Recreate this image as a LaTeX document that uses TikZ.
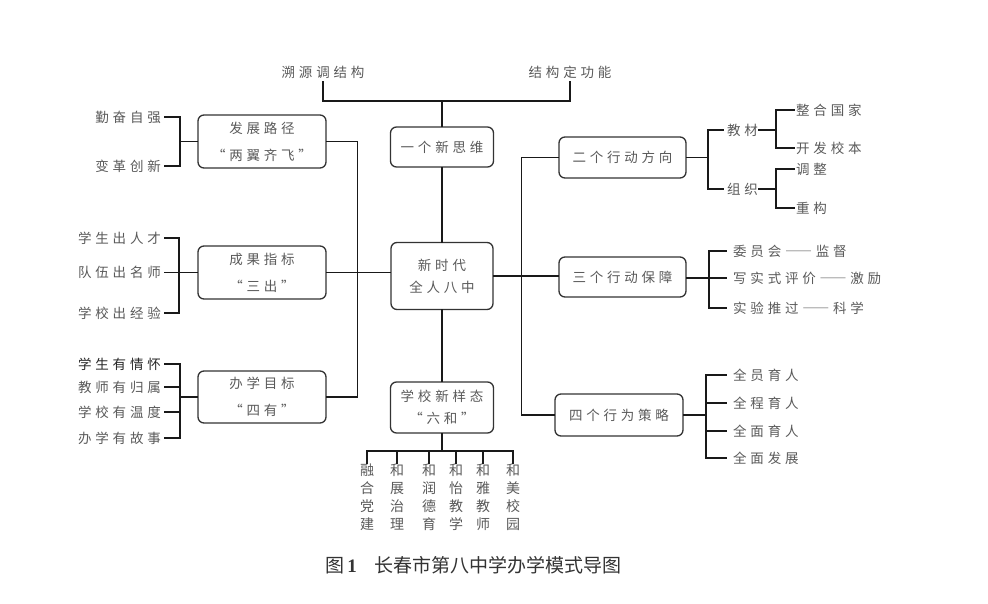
\documentclass[tikz,border=0pt]{standalone}
\usepackage{fontspec}
\newfontfamily\cjk[LetterSpace=28]{Noto Sans CJK SC}
\newfontfamily\cjkfw[LetterSpace=28,RawFeature=+fwid]{Noto Sans CJK SC}
\newfontfamily\cjkplain{Noto Sans CJK SC}
\newfontfamily\capnum{Liberation Serif}
\definecolor{txt}{HTML}{5A5A5A}
\definecolor{captxt}{HTML}{333333}
\begin{document}
\begin{tikzpicture}[x=1pt,y=-1pt,
  ln/.style={line width=1.5pt, draw=black!90, line cap=rect},
  box/.style={draw=black!80, line width=1.3pt, rounded corners=6pt, inner sep=0pt,
    align=center, text=txt, font=\cjk\fontsize{13.5}{22}\selectfont},
  wide/.style={minimum width=128pt, minimum height=53pt},
  lbl/.style={inner sep=0pt, text=txt, font=\cjk\fontsize{13.5}{16}\selectfont},
  lblfw/.style={inner sep=0pt, text=txt, font=\cjkfw\fontsize{13.5}{16}\selectfont},
  vt/.style={inner sep=0pt, align=center, text=txt, font=\cjkplain\fontsize{14}{18}\selectfont},
]
\useasboundingbox[fill=white] (0,0) rectangle (988,603);

% top
\node[lbl, inner sep=3pt] (t1) at (323,72) {溯源调结构};
\node[lbl, inner sep=3pt] (t2) at (570,72) {结构定功能};
\coordinate (tj) at (442,101);

% central column
\node[box, minimum width=103pt, minimum height=40pt] (n1) at (442,147) {一个新思维};
\node[box, minimum width=102pt, minimum height=67pt] (n0) at (442,276) {新时代\\全人八中};
\node[box, minimum width=103pt, minimum height=51pt] (n6) at (442,407.5) {学校新样态\\“六和”};

% left boxes
\node[box, wide] (L1) at (262,141.5) {发展路径\\[5pt]“两翼齐飞”};
\node[box, wide] (L2) at (262,272.5) {成果指标\\[5pt]“三出”};
\node[box, wide, minimum height=52pt] (L3) at (262,397) {办学目标\\[5pt]“四有”};

% right boxes
\node[box, minimum width=127pt, minimum height=41pt] (R1) at (622.5,157.5) {二个行动方向};
\node[box, minimum width=127pt, minimum height=40pt] (R2) at (622.5,277) {三个行动保障};
\node[box, minimum width=128pt, minimum height=42pt] (R3) at (619,415) {四个行为策略};

% main connectors
\draw[ln] (t1.south) |- (tj) -| (t2.south);
\draw[ln] (tj) -- (n1.north);
\draw[ln] (n1.south) -- (n0.north);
\draw[ln] (n0.south) -- (n6.north);
\draw[ln] (L1.east) -- ++(31,0) |- (L3.east);
\draw[ln] (L2.east) -- (L2.east -| n0.west);
\draw[ln] (R1.west) -- ++(-37,0) |- (R3.west);
\draw[ln] (n0.east) -- (n0.east -| R2.west);

% left labels: L1
\node[lbl, anchor=east] (a1) at (161,117) {勤奋自强};
\node[lbl, anchor=east] (a2) at (161,166) {变革创新};
\coordinate (ka) at (180,141.5);
\draw[ln] ([xshift=4pt]a1.east) -| (ka) |- ([xshift=4pt]a2.east);
\draw[ln] (ka) -- (L1.west);

% L2
\node[lbl, anchor=east] (b1) at (161,238) {学生出人才};
\node[lbl, anchor=east] (b2) at (161,272.5) {队伍出名师};
\node[lbl, anchor=east] (b3) at (161,313) {学校出经验};
\coordinate (kb) at (179,272.5);
\draw[ln] ([xshift=4pt]b1.east) -| (kb) |- ([xshift=4pt]b3.east);
\draw[ln] ([xshift=4pt]b2.east) -- (L2.west);

% L3
\node[lbl, anchor=east, text=black!85] (c1) at (161,364) {学生有情怀};
\node[lbl, anchor=east] (c2) at (161,387) {教师有归属};
\node[lbl, anchor=east] (c3) at (161,412) {学校有温度};
\node[lbl, anchor=east] (c4) at (161,438) {办学有故事};
\coordinate (kc) at (180,397);
\draw[ln] ([xshift=4pt]c1.east) -| (kc) |- ([xshift=4pt]c4.east);
\draw[ln] ([xshift=4pt]c2.east) -- (c2.east -| kc);
\draw[ln] ([xshift=4pt]c3.east) -- (c3.east -| kc);
\draw[ln] (kc) -- (L3.west);

% R1
\node[lbl, anchor=west] (d1) at (727,130) {教材};
\node[lbl, anchor=west] (d2) at (727,189) {组织};
\coordinate (kr1) at (708,157.5);
\draw[ln] (R1.east) -- (kr1);
\draw[ln] ([xshift=-4pt]d1.west) -| (kr1) |- ([xshift=-4pt]d2.west);
\node[lbl, anchor=west] (e1) at (796,110) {整合国家};
\node[lbl, anchor=west] (e2) at (796,148) {开发校本};
\node[lbl, anchor=west] (e3) at (796,169) {调整};
\node[lbl, anchor=west] (e4) at (796,208) {重构};
\coordinate (kd1) at (776,130);
\coordinate (kd2) at (776,189);
\draw[ln] ([xshift=1pt]d1.east) -- (kd1);
\draw[ln] ([xshift=-2pt]e1.west) -| (kd1) |- ([xshift=-2pt]e2.west);
\draw[ln] ([xshift=1pt]d2.east) -- (kd2);
\draw[ln] ([xshift=-2pt]e3.west) -| (kd2) |- ([xshift=-2pt]e4.west);

% R2
\node[lblfw, anchor=west] (f1) at (733,251) {委员会——监督};
\node[lblfw, anchor=west] (f2) at (733,278) {写实式评价——激励};
\node[lblfw, anchor=west] (f3) at (733,308) {实验推过——科学};
\coordinate (kr2) at (709,278);
\draw[ln] (R2.east |- kr2) -- (kr2);
\draw[ln] ([xshift=-7pt]f1.west) -| (kr2) |- ([xshift=-7pt]f3.west);
\draw[ln] (kr2) -- ([xshift=-7pt]f2.west);

% R3
\node[lbl, anchor=west] (g1) at (733,375) {全员育人};
\node[lbl, anchor=west] (g2) at (733,403) {全程育人};
\node[lbl, anchor=west] (g3) at (733,431) {全面育人};
\node[lbl, anchor=west] (g4) at (733,458) {全面发展};
\coordinate (kr3) at (706,415);
\draw[ln] (R3.east) -- (kr3);
\draw[ln] ([xshift=-7pt]g1.west) -| (kr3) |- ([xshift=-7pt]g4.west);
\draw[ln] ([xshift=-7pt]g2.west) -- (g2.west -| kr3);
\draw[ln] ([xshift=-7pt]g3.west) -- (g3.west -| kr3);

% bottom
\coordinate (kb6) at (442,451);
\node[vt, anchor=north] (h1) at (367,464) {融\\合\\党\\建};
\node[vt, anchor=north] (h2) at (397,464) {和\\展\\治\\理};
\node[vt, anchor=north] (h3) at (429,464) {和\\润\\德\\育};
\node[vt, anchor=north] (h4) at (456,464) {和\\怡\\教\\学};
\node[vt, anchor=north] (h5) at (483,464) {和\\雅\\教\\师};
\node[vt, anchor=north] (h6) at (513,464) {和\\美\\校\\园};
\draw[ln] (n6.south) -- (kb6);
\draw[ln] ([yshift=1pt]h1.north) -- (h1.north |- kb6) -- (h6.north |- kb6) -- ([yshift=1pt]h6.north);
\foreach \h in {h2,h3,h4,h5} \draw[ln] ([yshift=1pt]\h.north) -- (\h.north |- kb6);

% caption
\node[inner sep=0pt, text=captxt, font=\cjkplain\fontsize{19}{19}\selectfont] (cap) at (473.5,565)
  {图\hspace{3pt}{\capnum\bfseries 1}\hspace{18pt}长春市第八中学办学模式导图};
\end{tikzpicture}
\end{document}
